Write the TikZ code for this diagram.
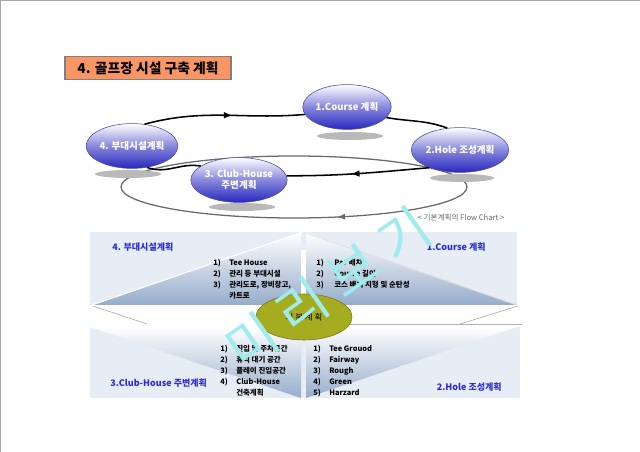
\documentclass[tikz,border=0pt]{standalone}
\usepackage{fontspec}
\setmainfont{Noto Sans CJK KR}
\usetikzlibrary{shapes.geometric, decorations.markings}
\definecolor{titleorange}{RGB}{250,150,100}
\definecolor{planblue}{RGB}{45,45,215}
\definecolor{stageblue}{RGB}{40,40,190}
\definecolor{stagemid}{RGB}{135,135,220}
\definecolor{panelbg}{RGB}{231,237,245}
\definecolor{paneldark}{RGB}{150,172,202}
\definecolor{coreolive}{RGB}{165,172,32}
\definecolor{wmcyan}{RGB}{160,235,235}
\definecolor{ringgray}{RGB}{105,105,105}
\tikzset{
 titlebox/.style={draw=gray, line width=0.8pt, fill=titleorange, minimum width=4.15cm, minimum height=0.58cm, inner sep=0pt, font=\bfseries\fontsize{9.8}{11}\selectfont},
 stage/.style={ellipse, draw=stageblue!60!gray, thin, minimum width=1.97cm, minimum height=1.12cm, inner sep=0pt, top color=white, bottom color=stageblue, middle color=stagemid, text=white, align=center, font=\bfseries\fontsize{6.8}{8}\selectfont},
 dropshade/.style={fill=gray!55},
 flowline/.style={line width=1.1pt},
 ringline/.style={ringgray, line width=0.9pt},
 midarrow/.style={postaction={decorate}, decoration={markings, mark=at position #1 with {\arrow{latex}}}},
 panelhead/.style={text=planblue, inner sep=0pt, font=\bfseries\fontsize{6.4}{7}\selectfont},
 planlist/.style={anchor=north west, inner sep=0pt, font=\bfseries\fontsize{5.3}{7.8}\selectfont},
 core/.style={ellipse, draw=coreolive!70!black, fill=coreolive, minimum width=2.4cm, minimum height=1.15cm, inner sep=0pt, font=\fontsize{6}{7}\selectfont},
 wmtext/.style={text=wmcyan, rotate=35, inner sep=0pt, font=\fontsize{38}{42}\selectfont}
}

\begin{document}
\begin{tikzpicture}[x=0.025cm, y=-0.025cm]
 \useasboundingbox (0,0) rectangle (640,452);
 \draw[gray!70, line width=0.8pt] (0.5,452) -- (0.5,0.5) -- (640,0.5);
 \node[titlebox] (title) at (148,68) {4. 골프장 시설 구축 계획};

 % flow chart
 \draw[ringline, midarrow=0.19] (467,187) arc[start angle=0, end angle=360, x radius=173, y radius=31];
 \fill[dropshade] (350,136) ellipse [x radius=33, y radius=4];
 \fill[dropshade] (462,178) ellipse [x radius=32, y radius=4];
 \fill[dropshade] (242,207) ellipse [x radius=33, y radius=4];
 \fill[dropshade] (128,174) ellipse [x radius=33, y radius=4];
 \node[stage] (course) at (347,107) {1.Course 계획};
 \node[stage] (hole) at (460,150) {2.Hole 조성계획};
 \node[stage] (club) at (239,180) {3. Club-House\\주변계획};
 \node[stage] (annex) at (132,146) {4. 부대시설계획};
 \draw[flowline, midarrow=0.55] (annex.60) to[out=15, in=185] (course.190);
 \draw[flowline] (course.-15) to[out=-10, in=160] (hole.120);
 \draw[flowline, midarrow=0.55] (hole.210) to[out=185, in=0] (club.5);
 \draw[flowline] (club.160) to[out=170, in=-20] (annex.-55);
 \node[text=gray!80!black, font=\fontsize{5.4}{6}\selectfont] (caption) at (461,218) {< 기본계획의 Flow Chart >};

 % plan panels
 \fill[panelbg] (90,232) rectangle (517,305);
 \shade[top color=white, bottom color=paneldark] (301,232) -- (301,305) -- (92,305) -- cycle;
 \shade[top color=white, bottom color=paneldark] (306,232) -- (306,305) -- (517,305) -- cycle;
 \fill[white] (301,250) rectangle (306,305);
 \draw[white, line width=0.8pt] (92,305) -- (303,232);
 \draw[gray!25, line width=0.6pt] (303,232) -- (517,305);
 \fill[panelbg] (90,327) rectangle (520,398);
 \shade[top color=white, bottom color=paneldark] (90,327) -- (301,327) -- (301,398) -- cycle;
 \shade[top color=white, bottom color=paneldark] (306,327) -- (517,327) -- (306,398) -- cycle;
 \draw[gray!60, line width=0.5pt] (93,306) -- (147,324);
 \draw[gray!60, line width=0.5pt] (518,306) -- (460,324);
 \draw[gray!60, line width=0.5pt] (345,324) -- (522,324);

 \node[panelhead, anchor=west] (annexhead) at (112,247) {4. 부대시설계획};
 \node[panelhead, anchor=east] (coursehead) at (486,247) {1.Course 계획};
 \node[panelhead, anchor=west] (clubhead) at (110,383) {3.Club-House 주변계획};
 \node[panelhead, anchor=east] (holehead) at (502,387) {2.Hole 조성계획};

 \node[planlist] (annexlist) at (213,257.5) {\begin{tabular}{@{}p{0.4cm}@{}l@{}}
 1) & Tee House\\ 2) & 관리 등 부대시설\\ 3) & 관리도로, 장비창고,\\ & 카트로\end{tabular}};
 \node[planlist] (courselist) at (316,257.5) {\begin{tabular}{@{}p{0.45cm}@{}l@{}}
 1) & Par 배치\\ 2) & Course 길이\\ 3) & 코스 배치 지형 및 순탄성\end{tabular}};
 \node[planlist] (clublist) at (220,343.5) {\begin{tabular}{@{}p{0.4cm}@{}l@{}}
 1) & 진입 및 주차공간\\ 2) & 휴식 대기 공간\\ 3) & 플레이 진입공간\\ 4) & Club-House\\ & 건축계획\end{tabular}};
 \node[planlist] (holelist) at (313,343.5) {\begin{tabular}{@{}p{0.4cm}@{}l@{}}
 1) & Tee Grouod\\ 2) & Fairway\\ 3) & Rough\\ 4) & Green\\ 5) & Harzard\end{tabular}};

 \node[core] (core) at (304,317) {기 본 계 획};
 \node[wmtext] (preview) at (328,288) {미\hspace{9pt}리\hspace{9pt}보\hspace{9pt}기};
\end{tikzpicture}
\end{document}
